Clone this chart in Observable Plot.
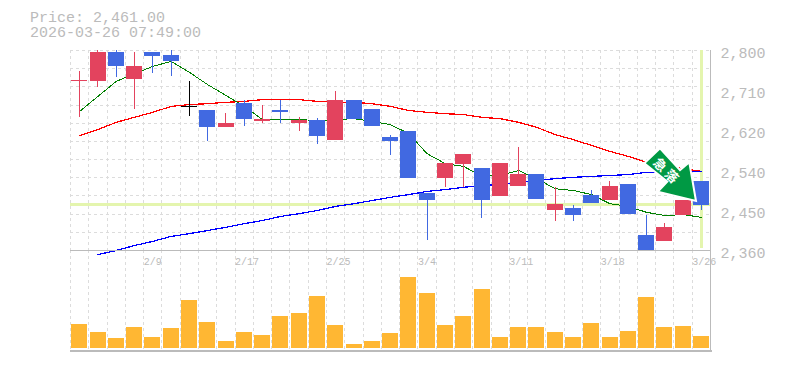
<!DOCTYPE html>
<html><head><meta charset="utf-8">
<script src="https://cdn.jsdelivr.net/npm/d3@7"></script>
<script src="https://cdn.jsdelivr.net/npm/@observablehq/plot@0.6"></script>
<style>
html,body{margin:0;padding:0;background:#fff}
#wrap{position:relative;width:785px;height:370px;overflow:hidden}
#wrap>svg,#wrap>div{position:absolute;left:0;top:0}
#title{left:30px!important;top:11px!important;font:15px/15px "Liberation Mono",monospace;color:#bbb;white-space:pre}
.crisp rect,.crisp line,.crisp path{shape-rendering:crispEdges}
</style></head><body><div id="wrap"></div>
<script>
const titleLines = ["Price: 2,461.00", "2026-03-26 07:49:00"];
const opens  = [2732,2732,2796,2736,2796,2789,2677,2668,2631,2683,2644,2668,2639,2646,2602,2690,2670,2609,2622,2485,2518,2549,2540,2479,2501,2527,2448,2452,2481,2470,2505,2393,2380,2437,2512];
const closes = [2734,2796,2765,2765,2787,2776,2677,2631,2639,2648,2648,2664,2646,2611,2690,2648,2633,2600,2518,2470,2551,2571,2470,2551,2527,2472,2461,2437,2463,2501,2439,2360,2411,2470,2459];
const highs  = [2754,2800,2800,2796,2796,2800,2732,2668,2661,2690,2679,2690,2653,2650,2710,2690,2670,2613,2622,2485,2551,2571,2540,2551,2587,2527,2499,2459,2492,2512,2505,2437,2419,2470,2512];
const lows   = [2653,2719,2741,2670,2749,2743,2655,2600,2631,2633,2639,2639,2622,2593,2602,2648,2633,2569,2518,2382,2499,2499,2430,2479,2501,2472,2424,2424,2463,2470,2439,2360,2380,2437,2448];
const maShort = [2666,2699,2732,2749,2765,2776,2752,2725,2701,2677,2648,2648,2648,2646,2648,2650,2644,2637,2617,2573,2551,2545,2523,2525,2536,2518,2496,2492,2483,2463,2457,2444,2437,2439,2433];
const maMid   = [2613,2626,2642,2653,2664,2677,2681,2683,2686,2688,2692,2692,2692,2688,2686,2686,2683,2677,2668,2664,2661,2659,2653,2650,2642,2631,2615,2604,2591,2578,2567,2554,2547,2540,2534];
const maLong  = [null,2351,2360,2371,2380,2391,2397,2404,2411,2419,2426,2435,2441,2448,2457,2463,2470,2477,2483,2490,2494,2499,2503,2505,2510,2514,2518,2521,2523,2525,2527,2532,2532,2534,2534];
const volumes = [24,16,10,21,11,20,48,26,7,16,13,32,35,52,23,4,7,15,71,55,23,32,59,11,21,21,16,11,25,11,17,51,21,22,12];
const dateTicks = [4,9,14,19,24,29,34];
const dateLabels = ["2/9","2/17","2/25","3/4","3/11","3/18","3/26"];
const priceTicks = [2800,2712,2624,2536,2448,2360];
const lastPrice = 2461;

const idx = d3.range(35);
const edges = d3.range(36);
const UP="#e3435e", DOWN="#4169e1", DOJI="#000";
const col = i => closes[i]>opens[i]?UP:closes[i]<opens[i]?DOWN:DOJI;
const GRID="#dcdcdc", AX="#bbb", HL="#e4f5ae", MONO='"Liberation Mono",monospace';
const body = i => [i+.07,i+.945];
const mid = i => i+.5;
const xs = {type:"linear",domain:[0,35],range:[70,710]};
const base = {width:785,height:370,marginLeft:70,marginRight:75,marginBottom:120,marginTop:50,className:"crisp",
  style:{background:"transparent",overflow:"visible"}};

const vol = Plot.plot({...base,marginTop:250,marginBottom:20,x:{...xs,axis:null},y:{domain:[-2,98],axis:null},
  marks:[
    Plot.ruleX(edges,{x:d=>d,stroke:GRID,strokeDasharray:"3,3"}),
    Plot.rectY(idx,{x1:i=>body(i)[0],x2:i=>body(i)[1],y1:0,y2:i=>volumes[i],fill:"#ffb733"}),
    Plot.frame({anchor:"bottom",stroke:AX,strokeWidth:2}),
    Plot.frame({anchor:"right",stroke:AX,strokeWidth:1.5})
  ]});

const main = Plot.plot({...base,x:xs,y:{domain:[2360,2800]},
  marks:[
    Plot.ruleX(edges,{x:d=>d,stroke:GRID,strokeDasharray:"3,3"}),
    Plot.ruleY(d3.range(2360,2801,40),{y:d=>d,stroke:GRID,strokeDasharray:"3,3"}),
    Plot.ruleY([lastPrice],{y:d=>d,stroke:HL,strokeWidth:3}),
    Plot.ruleX([mid(34)],{x:d=>d,y1:2364,y2:2800,stroke:HL,strokeWidth:3}),
    Plot.line(idx,{x:mid,y:i=>maMid[i],stroke:"#f00",strokeWidth:1.25}),
    Plot.line(idx,{x:mid,y:i=>maShort[i],stroke:"#008000",strokeWidth:1}),
    Plot.line(idx,{x:mid,y:i=>maLong[i],stroke:"#00f",strokeWidth:1.25,defined:i=>maLong[i]!=null}),
    Plot.ruleX(idx,{x:mid,y1:i=>lows[i],y2:i=>highs[i],stroke:col,strokeWidth:1}),
    Plot.rect(idx,{x1:i=>body(i)[0],x2:i=>body(i)[1],y1:i=>opens[i],y2:i=>closes[i],fill:col}),
    Plot.ruleY(idx.filter(i=>opens[i]===closes[i]),{y:i=>opens[i],x1:i=>body(i)[0],x2:i=>body(i)[1],stroke:DOJI,strokeWidth:1}),
    Plot.frame({anchor:"bottom",stroke:AX,strokeWidth:1.5}),
    Plot.frame({anchor:"right",stroke:AX,strokeWidth:1.5}),
    Plot.axisY({anchor:"right",ticks:priceTicks,tickSize:0,tickPadding:10,label:null,
      tickFormat:v=>d3.format(",")(Math.round(v/10)*10),fontFamily:MONO,fontSize:15,fill:AX,dy:3}),
    Plot.axisX({anchor:"bottom",ticks:dateTicks,tickSize:0,tickPadding:7,label:null,textAnchor:"start",
      tickFormat:v=>dateLabels[dateTicks.indexOf(v)],fontFamily:MONO,fontSize:10,fill:AX})
  ]});

const wrap=document.getElementById("wrap");
wrap.append(vol,main);
const t=document.createElement("div");t.id="title";t.textContent=titleLines.join("\n");wrap.append(t);

const ns="http://www.w3.org/2000/svg";
const ov=document.createElementNS(ns,"svg");
ov.setAttribute("width",785);ov.setAttribute("height",370);
ov.innerHTML=`<polygon points="644.3,163.3 660,148.3 680,170 689.3,162.3 696,201 657.7,191.7 667.3,181.7" fill="#009944" stroke="#fff" stroke-width="2" stroke-linejoin="miter"/>
<g fill="#fff" font-family="'Noto Sans CJK JP'" font-weight="700" font-size="13" text-anchor="middle">
<text transform="translate(660,165) rotate(45)" dy="4.5">急</text>
<text transform="translate(671.5,176.5) rotate(45)" dy="4.5">落</text></g>`;
wrap.append(ov);
</script></body></html>
